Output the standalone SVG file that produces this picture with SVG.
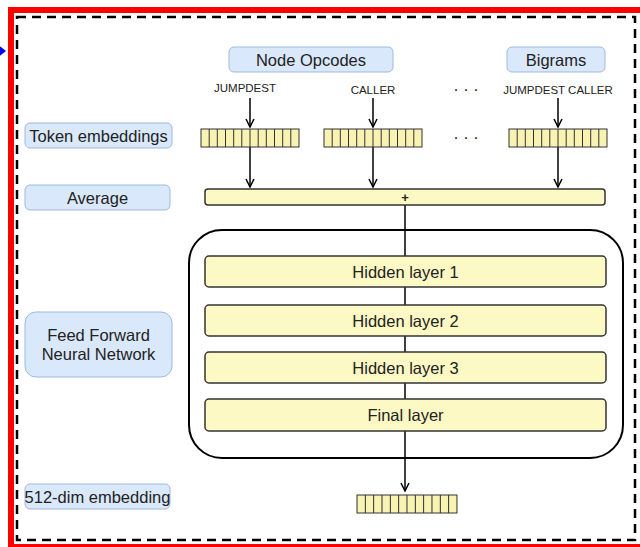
<svg xmlns="http://www.w3.org/2000/svg" width="640" height="547" viewBox="0 0 640 547">
<defs>
<style>
.lbl{fill:#dae8fc;stroke:#9fb9de;stroke-width:1}
.t{font-family:"Liberation Sans",Arial,sans-serif;fill:#222;text-anchor:middle;dominant-baseline:central}
.big{font-size:16.5px}
.sm{font-size:11.5px}
.layer{fill:#fdf9c4;stroke:#333;stroke-width:1.5}
.cell{fill:#f9f3b3;stroke:#333;stroke-width:1}
.conn{stroke:#000;stroke-width:1.5;fill:none}
</style>
<marker id="ah" viewBox="0 0 10 10" refX="9" refY="5" markerWidth="10" markerHeight="10" markerUnits="userSpaceOnUse" orient="auto">
<path d="M1,1 L9,5 L1,9" fill="none" stroke="#000" stroke-width="1.5"/>
</marker>
<g id="bar">
<rect x="0" y="0" width="98" height="18" class="cell" stroke-width="2"/>
<path d="M8.2,0V18M16.3,0V18M24.5,0V18M32.7,0V18M40.8,0V18M49,0V18M57.2,0V18M65.3,0V18M73.5,0V18M81.7,0V18M89.8,0V18" stroke="#333" stroke-width="1"/>
</g>
</defs>
<rect width="640" height="547" fill="#fff"/>
<rect x="11" y="10" width="640" height="537" fill="none" stroke="#f00" stroke-width="6"/>
<rect x="17" y="17" width="618" height="523" fill="none" stroke="#000" stroke-width="2.5" stroke-dasharray="9,6"/>
<polygon points="-4,43 6,51 -4,59" fill="#00f"/>

<g id="connectors">
<line x1="250" y1="98" x2="250" y2="127" class="conn" marker-end="url(#ah)"/>
<line x1="373" y1="98" x2="373" y2="127" class="conn" marker-end="url(#ah)"/>
<line x1="558" y1="98" x2="558" y2="127" class="conn" marker-end="url(#ah)"/>
<line x1="250" y1="147" x2="250" y2="187" class="conn" marker-end="url(#ah)"/>
<line x1="373" y1="147" x2="373" y2="187" class="conn" marker-end="url(#ah)"/>
<line x1="558" y1="147" x2="558" y2="187" class="conn" marker-end="url(#ah)"/>
<line x1="405" y1="205" x2="405" y2="491" class="conn" marker-end="url(#ah)"/>
</g>

<g id="node-opcodes"><rect x="229" y="47" width="164" height="25" rx="5" class="lbl"/><text x="311" y="60" class="t big">Node Opcodes</text></g>
<g id="bigrams"><rect x="507" y="47" width="98" height="25" rx="5" class="lbl"/><text x="556" y="60" class="t big">Bigrams</text></g>
<g id="tok-jumpdest"><text x="245" y="88" class="t sm">JUMPDEST</text></g>
<g id="tok-caller"><text x="373" y="90" class="t sm">CALLER</text></g>
<g id="dots-top"><text x="466" y="89" class="t big">· · ·</text></g>
<g id="tok-bigram"><text x="558" y="90" class="t sm">JUMPDEST CALLER</text></g>

<g id="token-embeddings"><rect x="25" y="123" width="147" height="25" rx="5" class="lbl"/><text x="98.5" y="136" class="t big">Token embeddings</text></g>
<g id="emb1"><use href="#bar" x="201" y="129"/></g>
<g id="emb2"><use href="#bar" x="324" y="129"/></g>
<g id="dots-mid"><text x="466" y="137" class="t big">· · ·</text></g>
<g id="emb3"><use href="#bar" x="509" y="129"/></g>

<g id="average-label"><rect x="25" y="185" width="145" height="25" rx="5" class="lbl"/><text x="97.5" y="198" class="t big">Average</text></g>
<g id="average"><rect x="205" y="189" width="400" height="16" rx="3" class="layer"/><text x="405" y="197" class="t" style="font-size:13px;font-weight:bold">+</text></g>

<g id="ffnn-label"><rect x="25" y="312" width="147" height="65" rx="11" class="lbl"/><text x="98.5" y="335" class="t big">Feed Forward</text><text x="98.5" y="354" class="t big">Neural Network</text></g>
<g id="ffnn"><rect x="189" y="230" width="434" height="228" rx="33" fill="none" stroke="#000" stroke-width="2"/></g>
<g id="hidden1"><rect x="205" y="256" width="401" height="31" rx="4" class="layer"/><text x="405.5" y="272" class="t big">Hidden layer 1</text></g>
<g id="hidden2"><rect x="205" y="305" width="401" height="31" rx="4" class="layer"/><text x="405.5" y="321" class="t big">Hidden layer 2</text></g>
<g id="hidden3"><rect x="205" y="352" width="401" height="31" rx="4" class="layer"/><text x="405.5" y="368" class="t big">Hidden layer 3</text></g>
<g id="final"><rect x="205" y="399" width="401" height="32" rx="4" class="layer"/><text x="405.5" y="415" class="t big">Final layer</text></g>

<g id="dim-label"><rect x="25" y="484" width="145" height="25" rx="5" class="lbl"/><text x="97.5" y="497" class="t big">512-dim embedding</text></g>
<g id="output-emb"><use href="#bar" x="357" y="495" transform="translate(357 495) scale(1.02 1) translate(-357 -495)"/></g>
</svg>
